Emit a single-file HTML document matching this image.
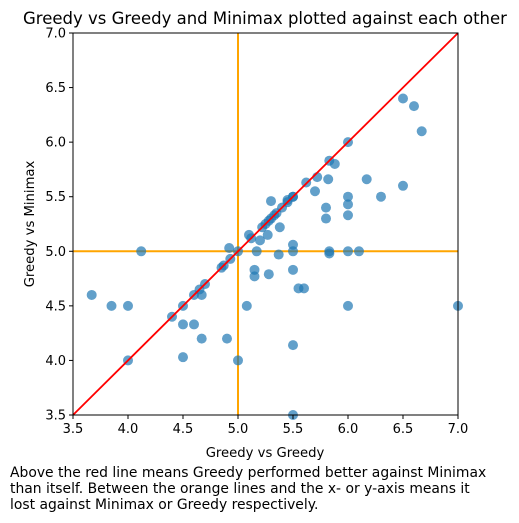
<!DOCTYPE html>
<html><head><meta charset="utf-8"><style>
body{margin:0;background:#fff;font-family:"Liberation Sans","DejaVu Sans",sans-serif;}
#wrap{position:relative;width:519px;height:523px;overflow:hidden}
.cap{position:absolute;left:10px;top:465px;font-size:13.9px;line-height:16px;color:#000;font-family:"DejaVu Sans","Liberation Sans",sans-serif}
</style></head><body><div id="wrap">
<svg id="svg" width="519" height="460" style="position:absolute;left:0;top:0" font-family="DejaVu Sans, Liberation Sans, sans-serif">
<text x="265" y="24" font-size="16.5" text-anchor="middle">Greedy vs Greedy and Minimax plotted against each other</text>
<text x="265" y="457" font-size="13.2" text-anchor="middle">Greedy vs Greedy</text>
<text x="0" y="0" font-size="13.2" text-anchor="middle" transform="translate(34,224) rotate(-90)">Greedy vs Minimax</text>
<g id="plot"></g>
</svg>
<div class="cap">Above the red line means Greedy performed better against Minimax<br>than itself. Between the orange lines and the x- or y-axis means it<br>lost against Minimax or Greedy respectively.</div>
</div>
<script>
const xVals=[3.67,3.85,4.0,4.0,4.12,4.4,4.5,4.5,4.5,4.6,4.6,4.65,4.67,4.67,4.7,4.85,4.87,4.9,4.92,4.93,5.0,5.0,5.08,5.1,5.12,5.15,5.15,5.17,5.2,5.25,5.27,5.28,5.3,5.3,5.33,5.35,5.37,5.38,5.4,5.45,5.5,5.5,5.5,5.5,5.5,5.5,5.55,5.6,5.62,5.7,5.72,5.8,5.8,5.82,5.83,5.83,5.83,5.88,6.0,6.0,6.0,6.0,6.0,6.0,6.1,6.17,6.3,6.5,6.5,6.6,6.67,7.0,5.22,5.28,5.5,5.45];
const yVals=[4.6,4.5,4.5,4.0,5.0,4.4,4.5,4.33,4.03,4.6,4.33,4.65,4.6,4.2,4.7,4.85,4.87,4.2,5.03,4.93,5.0,4.0,4.5,5.15,5.12,4.83,4.77,5.0,5.1,5.25,5.15,4.79,5.3,5.46,5.33,5.35,4.97,5.22,5.4,5.45,5.5,5.06,5.0,4.83,4.14,3.5,4.66,4.66,5.63,5.55,5.68,5.4,5.3,5.66,5.83,5.0,4.98,5.8,6.0,5.5,5.43,5.33,5.0,4.5,5.0,5.66,5.5,6.4,5.6,6.33,6.1,4.5,5.22,5.28,5.5,5.47];
const xTicks=[3.5,4.0,4.5,5.0,5.5,6.0,6.5,7.0];
const yTicks=[3.5,4.0,4.5,5.0,5.5,6.0,6.5,7.0];
const L=73,T=33,W=385,H=382,mn=3.5,mx=7.0;
const sx=v=>L+(v-mn)/(mx-mn)*W, sy=v=>T+H-(v-mn)/(mx-mn)*H;
const g=document.getElementById('plot'),NS='http://www.w3.org/2000/svg';
function mk(t,a){const e=document.createElementNS(NS,t);for(const k in a)e.setAttribute(k,a[k]);g.appendChild(e);return e;}
const cg=document.createElementNS(NS,'g');
xVals.forEach((x,i)=>{const c=document.createElementNS(NS,'circle');c.setAttribute('cx',sx(x));c.setAttribute('cy',sy(yVals[i]));c.setAttribute('r',5);c.setAttribute('fill','#1f77b4');c.setAttribute('fill-opacity','0.7');


cg.appendChild(c);});
let e;
e=mk('line',{x1:sx(5),x2:sx(5),y1:T,y2:T+H,stroke:'orange','stroke-width':2});


e=mk('line',{x1:L,x2:L+W,y1:sy(5),y2:sy(5),stroke:'orange','stroke-width':2});


g.appendChild(cg);
e=mk('line',{x1:sx(mn),y1:sy(mn),x2:sx(mx),y2:sy(mx),stroke:'red','stroke-width':1.8});


e=mk('rect',{x:L,y:T,width:W,height:H,fill:'none',stroke:'#000','stroke-width':1});


xTicks.forEach(v=>{mk('line',{x1:sx(v),x2:sx(v),y1:T+H,y2:T+H+4,stroke:'#000'});
const t=mk('text',{x:sx(v),y:T+H+18,'font-size':13,'text-anchor':'middle'});t.textContent=v.toFixed(1);

});
yTicks.forEach(v=>{mk('line',{x1:L-4,x2:L,y1:sy(v),y2:sy(v),stroke:'#000'});
const t=mk('text',{x:L-7,y:sy(v)+4.5,'font-size':13,'text-anchor':'end'});t.textContent=v.toFixed(1);

});
</script></body></html>
